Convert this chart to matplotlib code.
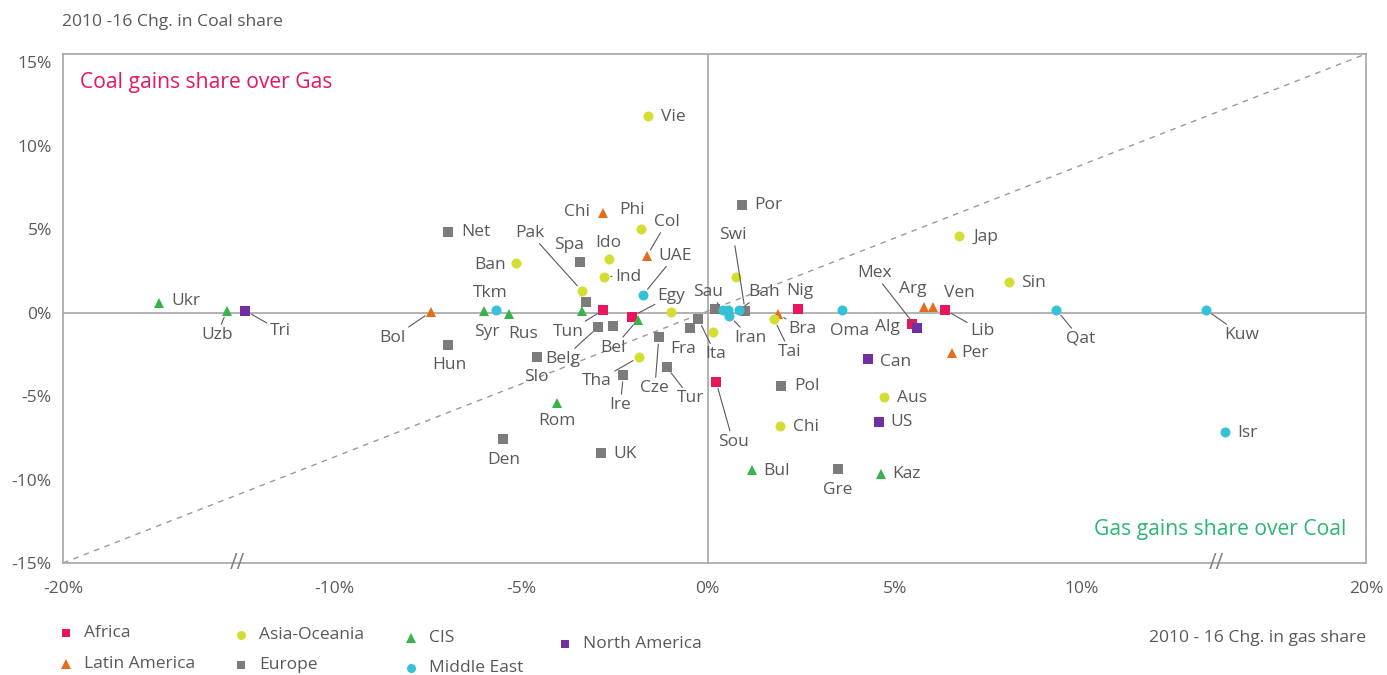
import numpy as np
import matplotlib
matplotlib.use("Agg")
import matplotlib.pyplot as plt
from matplotlib.lines import Line2D

plt.rcParams['font.family'] = ['Open Sans', 'DejaVu Sans']

# 2010-16 change in gas share (x, %) vs change in coal share (y, %), by region
africa_names = ["Tun", "Egy", "Nig", "Alg", "Lib", "Sou"]
africa_x = [-2.80, -2.04, 2.41, 5.46, 6.35, 0.22]
africa_y = [0.16, -0.24, 0.19, -0.68, 0.16, -4.14]

latam_names = ["Bol", "Chi", "Col", "Bra", "Arg", "Ven", "Per"]
latam_x = [-7.41, -2.80, -1.63, 1.87, 5.79, 6.02, 6.53]
latam_y = [0.05, 5.99, 3.40, -0.08, 0.34, 0.34, -2.41]

asia_names = ["Vie", "Phi", "Ido", "Ind", "Ban", "Pak", "Tha", "Tai", "", "", "",
              "Jap", "Sin", "Aus", "Chi"]
asia_x = [-1.61, -1.79, -2.65, -2.78, -5.13, -3.37, -1.84, 1.77, -0.98, 0.14, 0.75,
          6.73, 8.07, 4.72, 1.94]
asia_y = [11.78, 5.03, 3.22, 2.16, 2.96, 1.30, -2.67, -0.38, 0.02, -1.14, 2.16,
          4.61, 1.82, -5.03, -6.82]

europe_names = ["Net", "Spa", "Por", "", "Hun", "Slo", "Belg", "", "Cze", "Fra", "Ita",
                "Ire", "Tur", "Den", "UK", "Pol", "Gre", "", "Swi"]
europe_x = [-6.95, -3.42, 0.91, -3.27, -6.94, -4.58, -2.94, -2.53, -1.31, -0.48, -0.25,
            -2.26, -1.10, -5.49, -2.86, 1.96, 3.48, 0.19, 1.00]
europe_y = [4.83, 3.02, 6.47, 0.62, -1.93, -2.63, -0.87, -0.80, -1.47, -0.93, -0.40,
            -3.73, -3.27, -7.56, -8.42, -4.37, -9.36, 0.20, 0.10]

cis_names = ["Ukr", "Uzb", "Tkm", "Rus", "", "Bel", "Rom", "Bul", "Kaz"]
cis_x = [-15.90, -13.03, -5.99, -5.32, -3.37, -1.88, -4.04, 1.18, 4.63]
cis_y = [0.60, 0.10, 0.10, -0.08, 0.10, -0.44, -5.39, -9.42, -9.68]

mideast_names = ["Syr", "UAE", "Sau", "", "Iran", "Bah", "Oma", "Qat", "Kuw", "Isr"]
mideast_x = [-5.67, -1.73, 0.41, 0.55, 0.58, 0.84, 3.59, 9.33, 13.33, 13.98]
mideast_y = [0.16, 1.08, 0.16, 0.16, -0.20, 0.16, 0.16, 0.16, 0.16, -7.13]

namerica_names = ["Tri", "Mex", "Can", "US"]
namerica_x = [-12.38, 5.60, 4.28, 4.58]
namerica_y = [0.12, -0.93, -2.79, -6.56]

regions = ["Africa", "Latin America", "Asia-Oceania", "Europe", "CIS",
           "Middle East", "North America"]
region_data = {
    "Africa": (africa_names, africa_x, africa_y),
    "Latin America": (latam_names, latam_x, latam_y),
    "Asia-Oceania": (asia_names, asia_x, asia_y),
    "Europe": (europe_names, europe_x, europe_y),
    "CIS": (cis_names, cis_x, cis_y),
    "Middle East": (mideast_names, mideast_x, mideast_y),
    "North America": (namerica_names, namerica_x, namerica_y),
}

x_ticks = [-20, -10, -5, 0, 5, 10, 20]
y_ticks = [-15, -10, -5, 0, 5, 10, 15]

# styling
colors = {"Africa": "#E8175D", "Latin America": "#E36C1F", "Asia-Oceania": "#D4DE32",
          "Europe": "#7F7B7B", "CIS": "#36B34A", "Middle East": "#35C1D6",
          "North America": "#7030A0"}
markers = {"Africa": "s", "Latin America": "^", "Asia-Oceania": "o", "Europe": "s",
           "CIS": "^", "Middle East": "o", "North America": "s"}
msizes = {"s": 6.5, "^": 7.5, "o": 7.2}

# legend entry positions (marker centre, figure pixels from top-left)
legend_pos = {"Africa": (66, 633), "Latin America": (66, 664), "Asia-Oceania": (241, 635),
              "Europe": (241, 665), "CIS": (411, 638), "Middle East": (411, 668),
              "North America": (565, 644)}

# label offsets in pixels (dx right, dy up) from the marker
offsets = {
    "Africa": {"Tun": (-35, -22), "Egy": (40, 21), "Nig": (2, 18), "Alg": (-24, -3),
               "Lib": (37, -21), "Sou": (17, -60)},
    "Latin America": {"Bol": (-38, -26), "Chi": (-26, 1), "Col": (20, 34), "Bra": (25, -15),
                      "Arg": (-11, 18), "Ven": (27, 14), "Per": (23, 0)},
    "Asia-Oceania": {"Vie": (26, -1), "Phi": (-9, 19), "Ido": (0, 16), "Ind": (24, 0),
                     "Ban": (-26, -2), "Pak": (-52, 58), "Tha": (-42, -24), "Tai": (16, -33),
                     "Jap": (27, -1), "Sin": (24, -1), "Aus": (28, -1), "Chi": (26, -1)},
    "Europe": {"Net": (28, 0), "Spa": (-11, 17), "Por": (26, 0), "Hun": (1, -20),
               "Slo": (0, -20), "Belg": (-35, -32), "Cze": (-4, -51), "Fra": (-7, -21),
               "Ita": (17, -35), "Ire": (-3, -30), "Tur": (24, -31), "Den": (1, -21),
               "UK": (24, -1), "Pol": (26, 0), "Gre": (0, -21), "Swi": (-12, 76)},
    "CIS": {"Ukr": (27, 2), "Uzb": (-10, -24), "Tkm": (6, 18), "Rus": (14, -20),
            "Bel": (-24, -28), "Rom": (0, -18), "Bul": (25, -1), "Kaz": (26, 0)},
    "Middle East": {"Syr": (-9, -22), "UAE": (32, 39), "Sau": (-15, 18), "Iran": (21, -22),
                    "Bah": (25, 18), "Oma": (8, -21), "Qat": (24, -29), "Kuw": (36, -25),
                    "Isr": (22, -1)},
    "North America": {"Tri": (35, -20), "Mex": (-43, 55), "Can": (28, -3), "US": (23, 0)},
}
leaders = {"Uzb", "Tri", "Bol", "Pak", "Col", "UAE", "Ind", "Egy", "Tun", "Belg", "Bel",
           "Tha", "Ire", "Cze", "Tur", "Ita", "Sou", "Sau", "Swi", "Bah", "Iran", "Bra",
           "Tai", "Mex", "Lib", "Qat", "Kuw"}

# broken x axis: outer parts compressed
b_left, b_right = -12.6, 13.6
s_in, s_left, s_right = 37.37, 23.51, 23.44


def fwd(x):
    x = np.asarray(x, dtype=float)
    return np.where(x < b_left, b_left * s_in + (x - b_left) * s_left,
                    np.where(x > b_right, b_right * s_in + (x - b_right) * s_right, x * s_in))


def inv(u):
    u = np.asarray(u, dtype=float)
    ul, ur = b_left * s_in, b_right * s_in
    return np.where(u < ul, b_left + (u - ul) / s_left,
                    np.where(u > ur, b_right + (u - ur) / s_right, u / s_in))


text_col = "#595959"
axis_col = "#A6A6A6"
W, H = 1387, 675

fig = plt.figure(figsize=(W / 100, H / 100), dpi=100)
ax = fig.add_axes([0.0454, 0.1659, 0.9395, 0.7543])
ax.set_xscale('function', functions=(fwd, inv))
ax.set_xlim(-20, 20)
ax.set_ylim(-15, 15.5)

for sp in ax.spines.values():
    sp.set_color(axis_col)
    sp.set_linewidth(1.2)
ax.axhline(0, color=axis_col, lw=1.2, zorder=1)
ax.axvline(0, color=axis_col, lw=1.2, zorder=1)
ax.plot([-20, 20], [-15, 15.5], color="#9A9A9A", lw=1, ls=(0, (4, 4)), zorder=1)

ax.set_xticks(x_ticks)
ax.set_xticklabels([f"{v}%" for v in x_ticks])
ax.set_yticks(y_ticks)
ax.set_yticklabels([f"{v}%" for v in y_ticks])
ax.tick_params(axis='x', length=0, pad=13, labelsize=12.5, labelcolor=text_col)
ax.tick_params(axis='y', length=0, pad=8, labelsize=12.5, labelcolor=text_col)
ax.xaxis.set_minor_locator(plt.NullLocator())

# break marks on the bottom axis
for b in (b_left, b_right):
    ax.text(b, 0, "//", transform=ax.get_xaxis_transform(), ha='center', va='center',
            fontsize=15, color="#7F7F7F", clip_on=False)

for reg in regions:
    names, xs, ys = region_data[reg]
    m = markers[reg]
    ax.plot(xs, ys, ls='none', marker=m, ms=msizes[m], color=colors[reg], mew=0, zorder=4)
    for name, xv, yv in zip(names, xs, ys):
        if not name:
            continue
        dx, dy = offsets[reg][name]
        arrow = None
        if name in leaders:
            arrow = dict(arrowstyle='-', color=text_col, lw=0.8, shrinkA=0, shrinkB=5)
        ax.annotate(name, (xv, yv), xytext=(dx, dy), textcoords='offset pixels',
                    ha='center', va='center', fontsize=12.5, color=text_col,
                    arrowprops=arrow, zorder=5)

    # legend entry
    lx, ly = legend_pos[reg]
    fig.add_artist(Line2D([lx / W], [1 - ly / H], ls='none', marker=m, ms=msizes[m] * 0.9,
                          color=colors[reg], mew=0, transform=fig.transFigure))
    fig.text((lx + 18) / W, 1 - ly / H, reg, ha='left', va='center', fontsize=12.5,
             color=text_col)

ax.text(0.013, 0.943, "Coal gains share over Gas", transform=ax.transAxes,
        ha='left', va='center', fontsize=15.2, color="#E8175D")
ax.text(0.9846, 0.065, "Gas gains share over Coal", transform=ax.transAxes,
        ha='right', va='center', fontsize=15.2, color="#2BB673")

fig.text(0.0447, 0.968, "2010 -16 Chg. in Coal share", ha='left', va='center',
         fontsize=12.6, color=text_col)
fig.text(0.9849, 0.0548, "2010 - 16 Chg. in gas share", ha='right', va='center',
         fontsize=12.6, color=text_col)

fig.savefig("out.png", dpi=100)
